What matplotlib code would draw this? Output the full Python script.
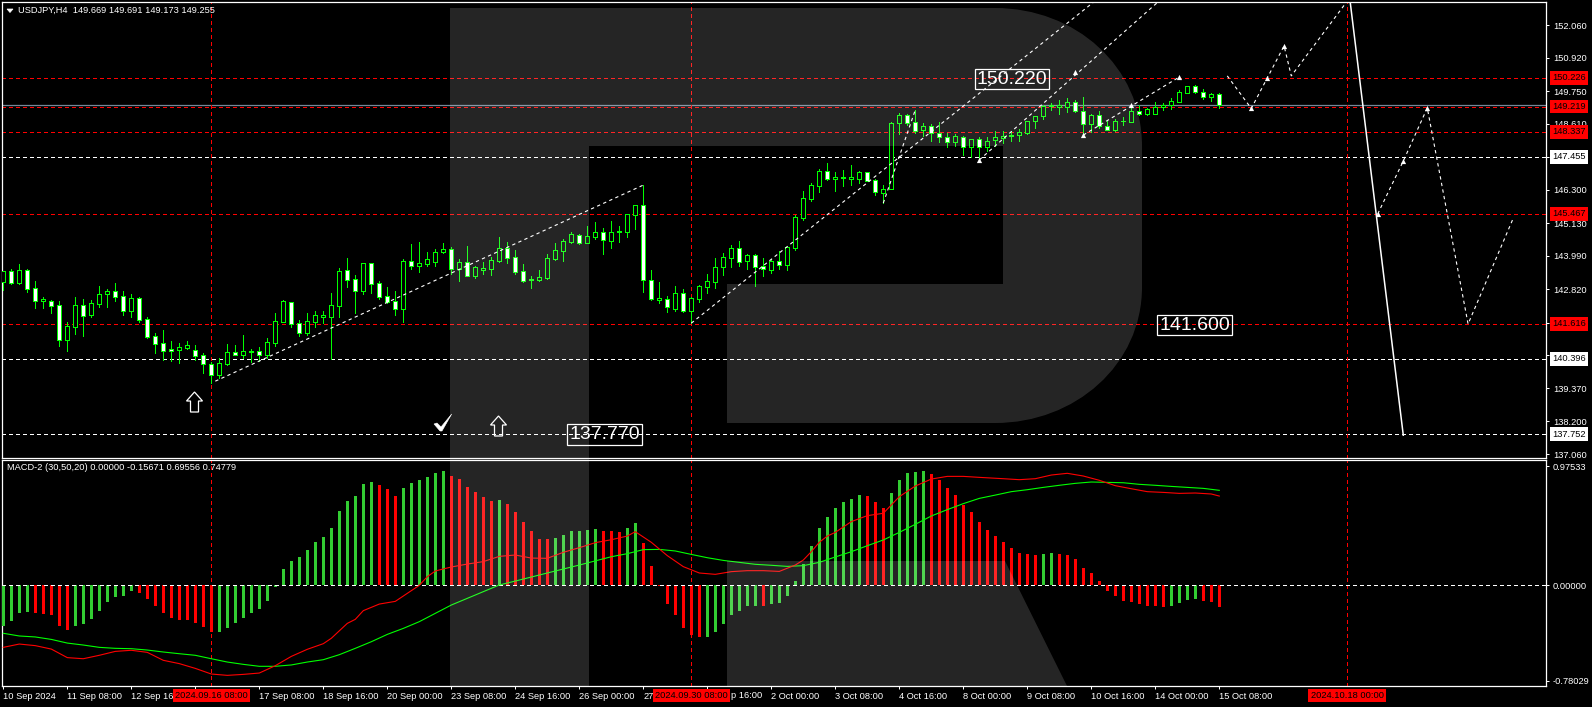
import matplotlib
matplotlib.use("Agg")
import matplotlib.pyplot as plt
from matplotlib.path import Path
from matplotlib.patches import PathPatch, Polygon

plt.rcParams['font.family'] = ['Liberation Sans', 'DejaVu Sans']

opens = [143.09,143.45,143.06,143.49,142.86,142.43,142.43,142.26,141.06,141.52,
         142.26,141.94,142.32,142.65,142.75,142.58,142.08,142.51,141.77,141.18,
         140.93,140.72,140.71,140.78,140.69,140.51,140.20,139.84,140.22,140.62,
         140.54,140.66,140.65,140.54,140.96,141.69,142.37,141.63,141.31,141.69,
         141.87,141.87,142.25,143.49,143.17,142.78,143.73,143.03,142.58,142.40,
         142.15,143.80,143.65,143.72,143.79,144.12,144.22,143.54,143.77,143.30,
         143.51,143.52,143.82,144.26,143.94,143.45,143.14,143.16,143.23,143.89,
         144.17,144.49,144.71,144.45,144.66,144.82,144.52,144.82,144.83,145.43,
         145.76,143.14,142.46,142.47,142.15,142.68,142.08,142.50,142.92,143.09,
         143.62,143.93,144.26,143.80,144.01,143.63,143.51,143.80,143.69,144.28,
         145.33,146.00,146.45,146.95,146.69,146.72,146.69,146.69,146.92,146.64,
         146.20,146.32,148.63,148.91,148.66,148.39,148.52,148.28,148.14,147.97,
         148.14,147.79,148.07,147.81,148.04,148.13,148.18,148.21,148.30,148.70,
         148.87,149.22,149.20,149.19,149.36,149.05,148.59,148.91,148.52,148.41,
         148.70,148.69,149.05,148.97,148.97,149.19,149.26,149.39,149.70,149.92,
         149.71,149.54,149.669]
highs = [143.45,143.52,143.71,143.52,143.11,142.55,142.45,142.41,141.67,142.55,
         142.48,142.45,142.94,142.83,143.04,142.76,142.66,142.55,141.84,141.30,
         141.40,141.01,140.94,141.01,140.87,140.58,140.28,140.42,140.91,140.87,
         141.22,140.74,140.80,141.12,142.00,142.45,142.38,141.75,142.00,142.06,
         142.06,142.69,143.57,143.92,143.31,143.74,143.74,143.11,142.90,142.76,
         143.88,144.41,144.48,144.13,144.23,144.44,144.30,143.88,144.34,143.64,
         143.78,143.95,144.65,144.48,144.20,143.71,143.29,143.50,144.06,144.44,
         144.58,144.83,144.76,145.04,145.19,144.96,145.21,145.04,145.45,145.77,
         146.47,143.50,143.08,142.58,142.94,142.83,142.54,142.96,143.36,143.92,
         144.09,144.37,144.51,144.07,144.06,143.92,143.88,144.16,144.30,145.42,
         146.26,146.53,147.03,147.24,146.93,147.00,147.17,146.97,146.93,146.68,
         146.47,148.68,148.98,148.96,149.10,148.64,148.59,148.68,148.28,148.25,
         148.19,148.08,148.15,148.15,148.36,148.36,148.36,148.43,148.72,148.87,
         149.26,149.35,149.46,149.52,149.43,149.55,148.94,149.06,148.75,148.77,
         148.85,149.17,149.26,149.15,149.38,149.33,149.52,149.80,149.95,149.98,
         149.83,149.68,149.691]
lows = [142.80,143.01,143.01,142.73,142.17,142.17,142.00,140.84,140.66,141.26,
        141.19,141.85,142.20,142.20,142.41,141.92,141.85,141.68,141.12,140.59,
        140.35,140.32,140.25,140.74,140.36,139.89,139.53,139.72,140.17,140.51,
        140.41,140.29,140.30,140.42,140.84,141.68,141.50,141.19,141.22,141.50,
        141.64,140.37,141.85,142.90,142.00,142.66,142.68,142.50,142.34,141.92,
        141.68,143.53,143.44,143.64,143.64,144.10,143.36,143.11,143.29,143.23,
        143.36,143.32,143.78,143.74,143.36,143.09,142.87,143.11,143.19,143.85,
        143.81,144.44,144.42,144.45,144.59,144.06,144.27,144.48,144.66,144.93,
        142.73,142.46,142.34,142.03,142.06,142.03,141.63,142.38,142.69,142.87,
        143.32,143.60,143.64,143.53,142.94,143.29,143.39,143.53,143.50,144.20,
        145.25,145.92,146.24,146.65,146.26,146.44,146.47,146.53,146.60,146.12,
        145.85,146.32,148.27,148.57,148.28,148.19,148.01,147.98,147.79,147.84,
        147.52,147.44,147.35,147.66,147.84,147.94,148.00,148.01,148.26,148.47,
        148.78,149.09,148.96,149.03,149.01,148.27,148.32,148.45,148.39,148.37,
        148.57,148.68,148.93,148.93,148.96,149.10,149.13,149.36,149.68,149.68,
        149.48,149.41,149.173]
closes = [143.45,143.06,143.49,142.85,142.43,142.47,142.25,141.06,141.53,142.26,
          141.90,142.33,142.65,142.75,142.57,142.08,142.51,141.76,141.17,140.92,
          140.68,140.68,140.79,140.86,140.50,140.20,139.84,140.23,140.62,140.54,
          140.65,140.64,140.54,140.97,141.70,142.40,141.62,141.31,141.70,141.91,
          141.91,142.26,143.45,143.16,142.78,143.73,143.02,142.57,142.39,142.15,
          143.80,143.65,143.73,143.87,144.12,144.22,143.54,143.77,143.30,143.59,
          143.57,143.84,144.26,143.93,143.44,143.13,143.18,143.24,143.91,144.19,
          144.50,144.75,144.45,144.68,144.82,144.54,144.82,144.86,145.45,145.76,
          143.14,142.50,142.51,142.21,142.68,142.06,142.51,142.93,143.10,143.62,
          143.94,144.26,143.79,144.01,143.62,143.52,143.80,143.69,144.29,145.34,
          146.01,146.46,146.95,146.69,146.74,146.74,146.74,146.93,146.62,146.22,
          146.32,148.63,148.91,148.63,148.37,148.52,148.28,148.14,147.97,148.18,
          147.79,148.07,147.81,148.00,148.14,148.18,148.21,148.32,148.70,148.87,
          149.22,149.26,149.26,149.36,149.05,148.59,148.91,148.52,148.41,148.70,
          148.71,149.05,148.97,149.12,149.19,149.26,149.40,149.71,149.92,149.71,
          149.54,149.64,149.255]

hist_values = [-0.330,-0.292,-0.226,-0.218,-0.226,-0.234,-0.243,-0.330,-0.362,-0.330,
               -0.316,-0.275,-0.210,-0.136,-0.095,-0.087,-0.046,-0.063,-0.112,-0.169,
               -0.226,-0.267,-0.283,-0.283,-0.308,-0.341,-0.382,-0.382,-0.349,-0.308,
               -0.267,-0.226,-0.194,-0.128,-0.014,0.134,0.199,0.232,0.289,0.354,
               0.395,0.469,0.608,0.690,0.730,0.829,0.845,0.820,0.788,0.730,
               0.796,0.837,0.861,0.886,0.918,0.935,0.894,0.869,0.804,0.763,
               0.722,0.690,0.698,0.665,0.600,0.518,0.444,0.379,0.379,0.387,
               0.412,0.444,0.444,0.452,0.461,0.444,0.444,0.436,0.469,0.510,
               0.346,0.158,-0.003,-0.153,-0.243,-0.349,-0.406,-0.422,-0.422,-0.382,
               -0.316,-0.243,-0.210,-0.169,-0.169,-0.169,-0.153,-0.144,-0.087,0.035,
               0.174,0.322,0.469,0.559,0.632,0.681,0.706,0.739,0.730,0.681,
               0.632,0.755,0.861,0.918,0.927,0.935,0.910,0.861,0.796,0.739,
               0.657,0.600,0.518,0.452,0.403,0.354,0.305,0.264,0.256,0.248,
               0.256,0.264,0.256,0.248,0.215,0.142,0.101,0.035,-0.046,-0.087,
               -0.128,-0.136,-0.153,-0.169,-0.169,-0.177,-0.169,-0.144,-0.120,-0.112,
               -0.128,-0.136,-0.177]
hist_signs = ("g"*4 + "r"*5 + "g"*8 + "r"*10 + "g"*20 + "r"*3 + "g"*6 + "r"*6 + "g" + "r"*6
              + "g"*6 + "r"*3 + "g"*2 + "r"*8 + "g"*7 + "r" + "g"*12 + "r"*3 + "g"*5
              + "r"*14 + "g"*2 + "r"*14 + "g"*4 + "r"*3)

macd_x = [0,2,4,6,8,10,12,14,16,18,20,22,24,26,28,30,32,34,36,38,40,41,43,44,45,47,49,52,
          53,54,55,56,58,60,62,64,66,68,70,72,74,76,78,79,81,83,85,87,89,91,93,95,97,99,
          100,101,102,103,104,106,108,110,111,112,114,116,118,120,122,125,127,129,131,133,
          135,137,139,141,143,145,147,149,151,152]
macd_line = [-0.507,-0.480,-0.493,-0.521,-0.591,-0.600,-0.572,-0.540,-0.531,-0.548,-0.613,-0.640,
             -0.679,-0.725,-0.736,-0.728,-0.717,-0.657,-0.581,-0.523,-0.477,-0.433,-0.311,-0.278,
             -0.207,-0.153,-0.131,0.0,0.071,0.117,0.134,0.150,0.174,0.194,0.237,0.248,0.223,0.221,
             0.270,0.308,0.349,0.373,0.403,0.439,0.352,0.243,0.153,0.101,0.090,0.112,0.120,0.120,
             0.114,0.166,0.207,0.275,0.352,0.403,0.433,0.521,0.570,0.589,0.657,0.725,0.812,0.869,
             0.891,0.891,0.883,0.872,0.864,0.872,0.902,0.916,0.894,0.859,0.815,0.790,0.766,0.760,
             0.752,0.755,0.747,0.730]
signal_x = [0,2,4,6,8,10,12,14,16,18,20,22,24,26,28,30,32,34,36,38,40,42,44,46,48,50,52,56,62,
            64,68,72,76,78,80,82,84,86,88,90,92,94,96,98,100,102,104,106,108,110,112,114,116,
            118,120,122,124,126,128,130,132,134,136,138,140,142,144,146,148,150,152]
signal_line = [-0.392,-0.414,-0.422,-0.442,-0.472,-0.488,-0.507,-0.515,-0.518,-0.529,-0.545,-0.559,
               -0.572,-0.600,-0.627,-0.646,-0.662,-0.662,-0.651,-0.627,-0.608,-0.567,-0.515,-0.461,
               -0.401,-0.352,-0.297,-0.161,0.003,0.035,0.101,0.166,0.234,0.259,0.292,0.294,0.281,
               0.253,0.226,0.204,0.188,0.172,0.164,0.155,0.161,0.188,0.232,0.275,0.324,0.371,0.433,
               0.499,0.567,0.619,0.668,0.711,0.738,0.766,0.782,0.801,0.818,0.834,0.845,0.842,0.839,
               0.826,0.818,0.809,0.801,0.793,0.777]

price_ticks = [152.06,150.92,149.75,148.61,147.47,146.30,145.13,143.99,142.82,141.65,140.51,139.37,138.20,137.06]
red_levels = [150.226,149.219,148.337,145.467,141.616]
white_levels = [147.455,140.396,137.752]
bid_price = 149.255
macd_labels = [0.97533,0.0,-0.78029]
date_ticks = list(range(0,153,8))
# the red time boxes hide parts of the neighbouring labels, so only the visible part is written
date_labels = ["10 Sep 2024","11 Sep 08:00","12 Sep 16","","17 Sep 08:00","18 Sep 16:00",
               "20 Sep 00:00","23 Sep 08:00","24 Sep 16:00","26 Sep 00:00","27","",
               "2 Oct 00:00","3 Oct 08:00","4 Oct 16:00","8 Oct 00:00","9 Oct 08:00","10 Oct 16:00",
               "14 Oct 00:00","15 Oct 08:00"]
vline_bars = [26,86,168]
vline_labels = ["2024.09.16 08:00","2024.09.30 08:00","2024.10.18 00:00"]

# drawn analysis lines, as (bar, price)
trend_a = ([26.5,80],[139.61,146.47])
trend_b = ([86,136.6],[141.64,152.94])
trend_c = ([110,114],[145.84,149.10])
trend_d = ([122,144.6],[147.35,152.94])
trend_e = ([135,147],[148.22,150.25])
forecast_1 = ([153,156,158,160.1,161,168.3],[150.29,149.15,150.22,151.34,150.29,153.02])
forecast_2 = ([171.8,175,178,183.1,188.7],[145.46,147.31,149.17,141.61,145.28])
forecast_solid = ([168.3,175],[153.02,137.72])
arrows_x = [122,134,135,141,147,156,158,160.1,171.8,175,178]
arrows_y = [147.35,150.42,148.22,149.27,150.25,149.15,150.22,151.34,145.46,147.31,149.17]

W, H = 1592, 707
bar_x = list(range(len(opens)))
dash = (0, (4, 3))
font_small = 6.7

fig = plt.figure(figsize=(W/100, H/100), dpi=100, facecolor="black")
ax = fig.add_axes([2/W, 1-457.5/H, 1544/W, 455.5/H], facecolor="black")
ax2 = fig.add_axes([2/W, 1-686/H, 1544/W, 226.5/H], facecolor="black")
ax.set_xlim(-0.1625, 192.84)
ax.set_ylim(136.94, 152.875)
ax2.set_xlim(-0.1625, 192.84)
ax2.set_ylim(-0.823, 1.029)

# candles
ax.vlines(bar_x, lows, highs, color="#00ff00", lw=0.72, antialiased=False, zorder=3)
bodies = [abs(c-o) for o, c in zip(opens, closes)]
bottoms = [min(o, c) for o, c in zip(opens, closes)]
faces = ["white" if c < o else "black" for o, c in zip(opens, closes)]
ax.bar(bar_x, bodies, bottom=bottoms, width=0.5, color=faces, edgecolor="#00ff00", lw=0.72,
       antialiased=False, zorder=4)

# levels
for lv in red_levels:
    ax.axhline(lv, color="red", lw=0.72, ls=dash, antialiased=False, zorder=2)
for lv in white_levels:
    ax.axhline(lv, color="white", lw=0.72, ls=dash, antialiased=False, zorder=2)
ax.axhline(bid_price, color="#778899", lw=0.9, zorder=2)
for b in vline_bars:
    ax.axvline(b, color="red", lw=0.72, ls=dash, antialiased=False, zorder=2)
    ax2.axvline(b, color="red", lw=0.72, ls=dash, antialiased=False, zorder=2)

# analysis lines
for xs, ys in [trend_a, trend_b, trend_c, trend_d, trend_e, forecast_1, forecast_2]:
    ax.plot(xs, ys, color="white", lw=0.8, ls=(0, (3, 3)), zorder=5)
ax.plot(*forecast_solid, color="white", lw=1.1, zorder=5)
ax.scatter(arrows_x, arrows_y, marker="^", s=14, color="white", lw=0, zorder=6)

# macd panel
hist_colors = ["#32cd32" if s == "g" else "#ff0000" for s in hist_signs]
ax2.bar(bar_x, hist_values, width=0.4, color=hist_colors, lw=0, antialiased=False, zorder=3)
ax2.axhline(0, color="white", lw=0.72, ls=dash, antialiased=False, zorder=4)
ax2.plot(signal_x, signal_line, color="#00ff00", lw=0.8, zorder=5)
ax2.plot(macd_x, macd_line, color="#ff0000", lw=0.8, zorder=6)

# axes furniture
for a in (ax, ax2):
    for s in a.spines.values():
        s.set_color("white")
        s.set_linewidth(0.9)
    a.tick_params(colors="white", length=2.5, width=0.72, labelsize=font_small, pad=2.6)
ax2.tick_params(axis="x", pad=1.8)
ax.set_xticks([])
ax.yaxis.tick_right()
ax.set_yticks(price_ticks)
ax.set_yticklabels(["%.3f" % p for p in price_ticks])
ax2.yaxis.tick_right()
ax2.set_yticks(macd_labels)
ax2.set_yticklabels(["%.5f" % v for v in macd_labels])
ax2.set_xticks(date_ticks)
ax2.set_xticklabels(date_labels, ha="left")

for lv in red_levels:
    ax.text(1.0039, lv, "%.3f" % lv, transform=ax.get_yaxis_transform(), color="black", fontsize=font_small,
            va="center", ha="left", clip_on=False, zorder=8,
            bbox=dict(boxstyle="square,pad=0.25", fc="#ff0000", ec="none"))
for lv in white_levels:
    ax.text(1.0039, lv, "%.3f" % lv, transform=ax.get_yaxis_transform(), color="black", fontsize=font_small,
            va="center", ha="left", clip_on=False, zorder=8,
            bbox=dict(boxstyle="square,pad=0.25", fc="white", ec="none"))

# overlay in pixel space: watermark, headers and boxed labels
ov = fig.add_axes([0, 0, 1, 1], zorder=5)
ov.set_xlim(0, W)
ov.set_ylim(H, 0)
ov.axis("off")

r_verts = [(450,8),(995,8),
           (1075,8),(1142,66),(1142,146),
           (1142,287),
           (1142,365),(1075,423),(995,423),
           (727,423),(727,284),(1003,284),(1003,146),(589,146),(589,686),(450,686),(450,8)]
r_codes = [Path.MOVETO,Path.LINETO,
           Path.CURVE4,Path.CURVE4,Path.CURVE4,
           Path.LINETO,
           Path.CURVE4,Path.CURVE4,Path.CURVE4,
           Path.LINETO,Path.LINETO,Path.LINETO,Path.LINETO,Path.LINETO,Path.LINETO,Path.LINETO,Path.CLOSEPOLY]
r_leg = [(727,561),(1005,561),(1067,686),(727,686),(727,561)]
leg_codes = [Path.MOVETO,Path.LINETO,Path.LINETO,Path.LINETO,Path.CLOSEPOLY]
ov.add_patch(PathPatch(Path(r_verts + r_leg, r_codes + leg_codes), fc="white", ec="none", alpha=0.15, zorder=1))

ov.add_patch(Polygon([(7,9),(13,9),(10,12.5)], fc="white", ec="white", lw=0.5, zorder=6))
ov.text(18, 10.5, "USDJPY,H4  149.669 149.691 149.173 149.255", color="white", fontsize=font_small, va="center", zorder=6)
ov.text(7, 468, "MACD-2 (30,50,20) 0.00000 -0.15671 0.69556 0.74779", color="white", fontsize=font_small, va="center", zorder=6)
ov.text(731, 696, "p 16:00", color="white", fontsize=font_small, va="center", zorder=6)

for txt, cx, cy in [("150.220",1012,79),("141.600",1194.5,325),("137.770",604.5,434.5)]:
    ov.text(cx, cy, txt, color="white", fontsize=14, ha="center", va="center", zorder=6,
            bbox=dict(boxstyle="square,pad=0.1", fc="none", ec="white", lw=0.9))

# hollow up arrows and the check mark
for tip_x, tip_y in [(194.5,392),(498.5,416)]:
    ov.add_patch(Polygon([(tip_x,tip_y),(tip_x+8,tip_y+9),(tip_x+4,tip_y+9),(tip_x+4,tip_y+20),
                          (tip_x-4,tip_y+20),(tip_x-4,tip_y+9),(tip_x-8,tip_y+9)],
                         fc="none", ec="white", lw=0.9, zorder=6))
ov.add_patch(Polygon([(434,424),(437,423),(441,427),(451.7,414),(442,431),(440,431)], fc="white", ec="white", lw=0.4, zorder=6))

for b, txt in zip(vline_bars, vline_labels):
    cx = 3.3 + 8*b
    ov.text(cx, 695.5, txt, color="black", fontsize=font_small, ha="center", va="center", zorder=7,
            bbox=dict(boxstyle="square,pad=0.25", fc="#ff0000", ec="none"))

fig.savefig("out.png", dpi=100, facecolor="black")
